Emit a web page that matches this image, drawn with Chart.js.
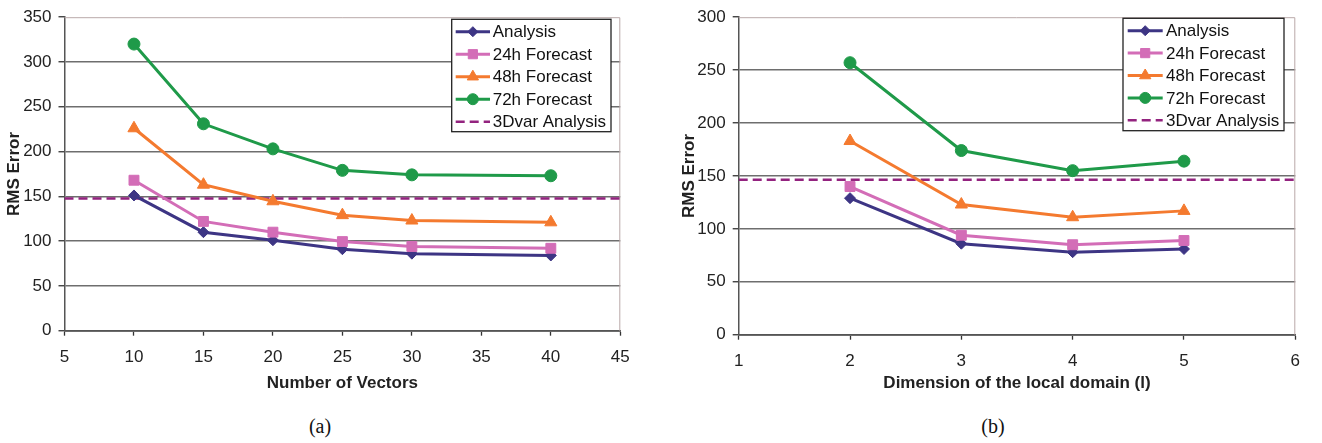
<!DOCTYPE html>
<html>
<head>
<meta charset="utf-8">
<script src="https://cdn.jsdelivr.net/npm/chart.js@4"></script>
<style>
  html, body { margin: 0; padding: 0; background: #ffffff; }
  body { width: 1322px; height: 443px; position: relative; overflow: hidden; font-family: "Liberation Sans", Arial, sans-serif; }
  #cA { position: absolute; left: 0; top: 0; }
  #cB { position: absolute; left: 660px; top: 0; }
  .cap { position: absolute; font-family: "Liberation Serif", "Times New Roman", serif; font-size: 20px; color: #111; transform: translate(-50%, -50%); }
</style>
</head>
<body>
<canvas id="cA" width="660" height="400"></canvas>
<canvas id="cB" width="662" height="400"></canvas>
<div class="cap" style="left:320px; top:426px;">(a)</div>
<div class="cap" style="left:993px; top:426px;">(b)</div>
<script>
// ---- Data: chart (a) ----
const vectorsA      = [10, 15, 20, 25, 30, 40];
const analysisA     = [151, 110, 101, 91, 86, 84];
const fc24A         = [168, 122, 110, 99.5, 94, 92];
const fc48A         = [226, 163, 144.5, 129, 123, 121];
const fc72A         = [320, 231, 203, 179, 174, 173];
const var3dA        = 147.5;
const xTicksA       = [5, 45, 5];   // min, max, step
const yTicksA       = [0, 350, 50];

// ---- Data: chart (b) ----
const domainB       = [2, 3, 4, 5];
const analysisB     = [129, 86, 78, 81];
const fc24B         = [140, 94, 85, 89];
const fc48B         = [183, 123, 111, 117];
const fc72B         = [257, 174, 155, 164];
const var3dB        = 146.5;
const xTicksB       = [1, 6, 1];
const yTicksB       = [0, 300, 50];

const seriesLabels  = ['Analysis', '24h Forecast', '48h Forecast', '72h Forecast', '3Dvar Analysis'];
const xTitleA = 'Number of Vectors';
const xTitleB = 'Dimension of the local domain (l)';
const yTitle  = 'RMS Error';

// ---- Styles ----
const COLORS = ['#3d3584', '#d36db7', '#f47a2f', '#1f9a49', '#93237f'];
const STYLES = ['rectRot', 'rect', 'triangle', 'circle'];
const RADII  = [5.5, 7, 7, 6];
const FONT = '"Liberation Sans", Arial, Helvetica, sans-serif';

function pts(xs, ys) { return xs.map((x, i) => ({ x: x, y: ys[i] })); }

function makeDatasets(xs, seriesList, ref, xr) {
  const ds = seriesList.map((ys, i) => ({
    label: seriesLabels[i],
    data: pts(xs, ys),
    borderColor: COLORS[i],
    backgroundColor: COLORS[i],
    borderWidth: 3,
    pointStyle: STYLES[i],
    pointRadius: RADII[i],
    pointBorderWidth: 1,
    pointBorderColor: COLORS[i],
    pointBackgroundColor: COLORS[i],
    tension: 0,
    order: 4 - i
  }));
  ds.push({
    label: seriesLabels[4],
    data: [{ x: xr[0], y: ref }, { x: xr[1], y: ref }],
    borderColor: COLORS[4],
    borderWidth: 2.5,
    borderDash: [9, 5],
    pointRadius: 0,
    order: 10
  });
  return ds;
}

const customLegend = {
  id: 'customLegend',
  afterDatasetsDraw(chart, args, opts) {
    const ctx = chart.ctx;
    const b = opts.box;
    ctx.save();
    ctx.fillStyle = '#ffffff';
    ctx.fillRect(b.x, b.y, b.w, b.h);
    ctx.strokeStyle = '#222';
    ctx.lineWidth = 1.3;
    ctx.strokeRect(b.x, b.y, b.w, b.h);
    chart.data.datasets.forEach((d, i) => {
      const y = b.row0 + i * b.rowH;
      ctx.save();
      ctx.strokeStyle = d.borderColor;
      ctx.lineWidth = i === 4 ? 2.5 : 3;
      ctx.setLineDash(d.borderDash || []);
      ctx.beginPath();
      ctx.moveTo(b.lx0, y);
      ctx.lineTo(b.lx1, y);
      ctx.stroke();
      ctx.restore();
      if (i < 4) {
        ctx.save();
        ctx.fillStyle = d.pointBackgroundColor;
        ctx.strokeStyle = d.pointBorderColor;
        ctx.lineWidth = 1;
        Chart.helpers.drawPoint(ctx, { pointStyle: d.pointStyle, radius: d.pointRadius - 0.5, rotation: 0, borderWidth: 1 }, (b.lx0 + b.lx1) / 2, y);
        ctx.restore();
      }
      ctx.fillStyle = '#111';
      ctx.font = '17px ' + FONT;
      ctx.textBaseline = 'middle';
      ctx.textAlign = 'left';
      ctx.fillText(d.label, b.tx, y + 1);
    });
    ctx.restore();
  }
};

const frameBorder = {
  id: 'frameBorder',
  beforeDatasetsDraw(chart) {
    const a = chart.chartArea, ctx = chart.ctx;
    ctx.save();
    ctx.strokeStyle = '#b9a9a9';
    ctx.lineWidth = 1;
    ctx.beginPath();
    ctx.moveTo(a.left, a.top + 0.5);
    ctx.lineTo(a.right - 0.5, a.top + 0.5);
    ctx.lineTo(a.right - 0.5, a.bottom);
    ctx.stroke();
    ctx.restore();
  }
};

function makeChart(canvasId, cfg) {
  return new Chart(document.getElementById(canvasId), {
    type: 'line',
    data: { datasets: cfg.datasets },
    options: {
      responsive: false,
      animation: false,
      devicePixelRatio: 1,
      layout: { padding: { left: 0, right: cfg.padRight, top: cfg.padTop, bottom: 0 } },
      plugins: {
        legend: { display: false },
        tooltip: { enabled: false },
        customLegend: { box: cfg.legend }
      },
      scales: {
        x: {
          type: 'linear',
          min: cfg.xt[0], max: cfg.xt[1],
          ticks: { stepSize: cfg.xt[2], color: '#222', font: { family: FONT, size: 17 }, padding: 11, maxRotation: 0 },
          grid: { drawOnChartArea: false, drawTicks: true, tickLength: 5, tickColor: '#333', tickWidth: 1.3 },
          border: { display: true, color: '#555', width: 1.8 },
          title: { display: true, text: cfg.xTitle, color: '#222', font: { family: FONT, size: 17, weight: 'bold' }, padding: { top: 4, bottom: 6 } },
          afterFit(s) { s.height = cfg.xHeight; }
        },
        y: {
          type: 'linear',
          min: cfg.yt[0], max: cfg.yt[1],
          ticks: { stepSize: cfg.yt[2], color: '#222', font: { family: FONT, size: 17 }, padding: 7 },
          grid: {
            color: (c) => (c.tick && c.tick.value === cfg.yt[1]) ? 'rgba(0,0,0,0)' : '#6e6e6e',
            lineWidth: 1.5,
            drawTicks: true, tickLength: 6, tickColor: '#333', tickWidth: 1.3
          },
          border: { display: true, color: '#555', width: 1.5 },
          title: { display: true, text: yTitle, color: '#222', font: { family: FONT, size: 17, weight: 'bold' }, padding: { top: cfg.yTitlePad, bottom: cfg.yTitlePad } },
          afterFit(s) { s.width = cfg.yWidth; }
        }
      }
    },
    plugins: [frameBorder, customLegend]
  });
}

makeChart('cA', {
  datasets: makeDatasets(vectorsA, [analysisA, fc24A, fc48A, fc72A], var3dA, [xTicksA[0], xTicksA[1]]),
  xt: xTicksA, yt: yTicksA,
  xTitle: xTitleA,
  padRight: 39.7, padTop: 10.5,
  xHeight: 400 - 330.7,
  yWidth: 64.5,
  yTitlePad: 4.5,
  legend: { x: 451.7, y: 19.3, w: 159.3, h: 112.4, lx0: 455.7, lx1: 490, tx: 492.7, row0: 31.7, rowH: 22.5 }
});

makeChart('cB', {
  datasets: makeDatasets(domainB, [analysisB, fc24B, fc48B, fc72B], var3dB, [xTicksB[0], xTicksB[1]]),
  xt: xTicksB, yt: yTicksB,
  xTitle: xTitleB,
  padRight: 662 - 635.3, padTop: 9.7,
  xHeight: 400 - 334.7,
  yWidth: 78.7,
  yTitlePad: 19,
  legend: { x: 463, y: 18.3, w: 161, h: 112.4, lx0: 467.7, lx1: 502.7, tx: 506, row0: 30.7, rowH: 22.4 }
});
</script>
</body>
</html>
